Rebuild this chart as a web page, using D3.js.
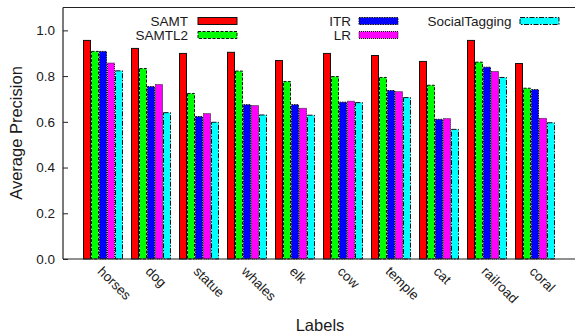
<!DOCTYPE html>
<html>
<head>
<meta charset="utf-8">
<script src="https://cdn.jsdelivr.net/npm/d3@7/dist/d3.min.js"></script>
<style>
  html, body { margin: 0; padding: 0; background: #fff; }
  svg { display: block; font-family: "Liberation Sans", Arial, Helvetica, sans-serif; }
</style>
</head>
<body>
<svg id="chart" width="575" height="333"></svg>
<script>
// Categories (image labels) and methods
const labels = ["horses", "dog", "statue", "whales", "elk", "cow", "temple", "cat", "railroad", "coral"];
const methods = ["SAMT", "SAMTL2", "ITR", "LR", "SocialTagging"];

// Average precision per method, one value per label
const samt          = [0.956, 0.921, 0.899, 0.904, 0.868, 0.899, 0.890, 0.864, 0.956, 0.855];
const samtl2        = [0.908, 0.833, 0.724, 0.822, 0.776, 0.798, 0.794, 0.760, 0.861, 0.747];
const itr           = [0.908, 0.754, 0.623, 0.675, 0.675, 0.686, 0.737, 0.611, 0.839, 0.741];
const lr            = [0.857, 0.763, 0.636, 0.671, 0.659, 0.690, 0.732, 0.614, 0.820, 0.615];
const socialTagging = [0.823, 0.640, 0.598, 0.630, 0.629, 0.684, 0.706, 0.567, 0.794, 0.596];

const yTicks = [0.0, 0.2, 0.4, 0.6, 0.8, 1.0];

const seriesValues = [samt, samtl2, itr, lr, socialTagging];
const colors = ["#ff0000", "#00ff00", "#0000ff", "#ff00ff", "#00ffff"];
const dashes = [null, "3,1.5", "1.5,1", "1,1", "5,1.5,1.5,1.5"];

const svg = d3.select("#chart");
const plotLeft = 63, plotRight = 575, plotTop = 7.5, plotBottom = 259;

const x0 = d3.scaleBand()
  .domain(labels)
  .range([plotLeft, plotRight])
  .paddingInner(1 / 6)
  .paddingOuter(0.4167);

const x1 = d3.scaleBand()
  .domain(methods)
  .range([0, x0.bandwidth()]);

const y = d3.scaleLinear().domain([0, 1.1]).range([plotBottom, plotTop]);

// Bars
const groups = svg.append("g")
  .selectAll("g")
  .data(labels)
  .join("g")
  .attr("transform", d => `translate(${x0(d)},0)`);

groups.selectAll("rect")
  .data((lab, i) => methods.map((m, k) => ({ m, k, v: seriesValues[k][i] })))
  .join("rect")
  .attr("x", d => x1(d.m) + 0.5)
  .attr("y", d => y(d.v))
  .attr("width", x1.bandwidth() - 1)
  .attr("height", d => y(0) - y(d.v))
  .attr("fill", d => colors[d.k])
  .attr("stroke", "#111")
  .attr("stroke-width", 1)
  .attr("stroke-dasharray", d => dashes[d.k]);

// Frame: left, top and bottom border lines
const frame = svg.append("g").attr("stroke", "#222").attr("stroke-width", 1.2).attr("fill", "none");
frame.append("line").attr("x1", plotLeft).attr("x2", plotLeft).attr("y1", plotTop).attr("y2", plotBottom);
frame.append("line").attr("x1", plotLeft).attr("x2", plotRight).attr("y1", plotTop).attr("y2", plotTop);
frame.append("line").attr("x1", plotLeft).attr("x2", plotRight).attr("y1", plotBottom).attr("y2", plotBottom);

// Y axis with inward ticks
const yAxis = svg.append("g")
  .attr("transform", `translate(${plotLeft},0)`)
  .call(d3.axisLeft(y).tickValues(yTicks).tickFormat(d3.format(".1f")).tickSize(-5).tickPadding(8));
yAxis.select(".domain").remove();
yAxis.selectAll(".tick line").attr("stroke", "#222");
yAxis.selectAll(".tick text").attr("font-size", 13.5).attr("fill", "#1a1a1a")
  .attr("font-family", "Liberation Sans, Arial, sans-serif");

// X category labels, rotated
svg.append("g")
  .attr("fill", "#1a1a1a")
  .selectAll("text")
  .data(labels)
  .join("text")
  .attr("transform", d => `translate(${x0(d) + x0.bandwidth() / 2 + 1},265) rotate(45)`)
  .attr("dy", "0.75em")
  .attr("font-size", 13.5)
  .attr("text-anchor", "start")
  .text(d => d);

// Axis titles
svg.append("text")
  .attr("transform", `translate(22,133) rotate(-90)`)
  .attr("text-anchor", "middle")
  .attr("font-size", 16.5)
  .attr("fill", "#1a1a1a")
  .text("Average Precision");

svg.append("text")
  .attr("x", 320)
  .attr("y", 331)
  .attr("text-anchor", "middle")
  .attr("font-size", 16.5)
  .attr("fill", "#1a1a1a")
  .text("Labels");

// Legend (three columns)
const legendItems = [
  { m: "SAMT",          k: 0, tx: 188,   sx: 198, y: 21 },
  { m: "SAMTL2",        k: 1, tx: 188,   sx: 198, y: 35 },
  { m: "ITR",           k: 2, tx: 351,   sx: 359, y: 21 },
  { m: "LR",            k: 3, tx: 351,   sx: 359, y: 35 },
  { m: "SocialTagging", k: 4, tx: 511.5, sx: 520, y: 21 }
];
const legend = svg.append("g");
legendItems.forEach(it => {
  legend.append("text")
    .attr("x", it.tx)
    .attr("y", it.y)
    .attr("dy", "0.36em")
    .attr("text-anchor", "end")
    .attr("font-size", 13.5)
    .attr("fill", "#1a1a1a")
    .text(it.m);
  legend.append("rect")
    .attr("x", it.sx)
    .attr("y", it.y - 3.5)
    .attr("width", 39)
    .attr("height", 7)
    .attr("fill", colors[it.k])
    .attr("stroke", "#111")
    .attr("stroke-width", 1)
    .attr("stroke-dasharray", dashes[it.k]);
});
</script>
</body>
</html>
